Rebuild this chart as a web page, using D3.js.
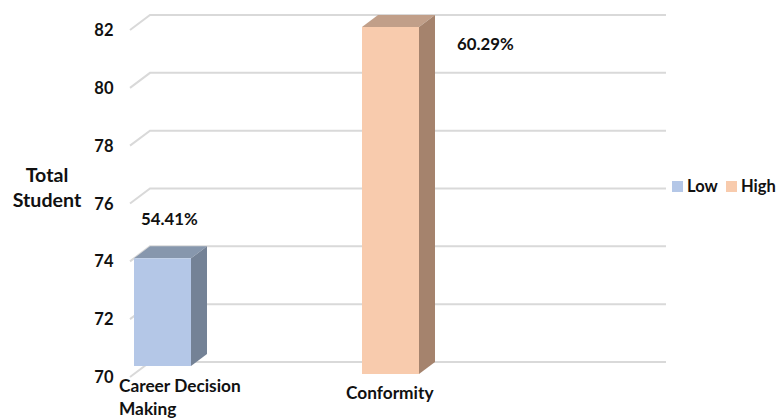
<!DOCTYPE html>
<html>
<head>
<meta charset="UTF-8">
<title>Total Student</title>
<style>
  body { margin: 0; padding: 0; background: #fff; }
  text { font-family: Lato, "Open Sans", sans-serif; font-weight: 700; fill: #111; }
</style>
</head>
<body>
<svg width="777" height="420"></svg>
<script src="https://d3js.org/d3.v7.min.js"></script>
<script>
var categories = [["Career Decision", "Making"], ["Conformity"]]
var seriesNames = ["Low", "High"]
var values = [74, 82]
var percentLabels = ["54.41%", "60.29%"]
var yTicks = [70, 72, 74, 76, 78, 80, 82]
var colors = ["#b4c7e7", "#f8cbad"]
var topColors = ["#8797ad", "#c19f89"]
var sideColors = ["#748296", "#a5836d"]

var svg = d3.select("svg")

// front plane of the 3d box, the back wall is shifted by depth
var dx = 16, dy = -12
var y = d3.scaleLinear().domain([70, 82]).range([374, 27])
var barW = 57

yTicks.forEach(function (t) {
  var yy = y(t)
  svg.append("path")
    .attr("d", "M130," + (yy + 3) + "L150," + (yy + dy) + "L666," + (yy + dy))
    .attr("fill", "none").attr("stroke", "#d9d9d9").attr("stroke-width", 2)
  svg.append("text").attr("x", 113.5).attr("y", yy + 9)
    .attr("text-anchor", "end").style("font-size", "16.5px").text(t)
})

// the blue bar stops a little above the floor in the picture
var bottomTrim = [8, 0]
var barX = [134, 362]

values.forEach(function (v, i) {
  var x0 = barX[i], x1 = x0 + barW
  var top = y(v), bot = y(70) - bottomTrim[i]
  svg.append("polygon").attr("fill", topColors[i])
    .attr("points", [[x0, top], [x0 + dx, top + dy], [x1 + dx, top + dy], [x1, top]].join(" "))
  svg.append("polygon").attr("fill", sideColors[i])
    .attr("points", [[x1, top], [x1 + dx, top + dy], [x1 + dx, bot + dy], [x1, bot]].join(" "))
  svg.append("rect").attr("x", x0).attr("y", top).attr("width", barW).attr("height", bot - top)
    .attr("fill", colors[i])
})

var labelPos = [[141, 225], [457, 50]]
percentLabels.forEach(function (s, i) {
  svg.append("text").attr("x", labelPos[i][0]).attr("y", labelPos[i][1])
    .style("font-size", "16.8px").text(s)
})

var catPos = [[119, 392], [346, 399]]
categories.forEach(function (lines, i) {
  lines.forEach(function (s, j) {
    svg.append("text").attr("x", catPos[i][0]).attr("y", catPos[i][1] + j * 23)
      .style("font-size", "17.3px").text(s)
  })
})

var title = svg.append("text").attr("text-anchor", "middle").style("font-size", "19.6px")
title.append("tspan").attr("x", 47).attr("y", 182).text("Total")
title.append("tspan").attr("x", 47).attr("y", 207).text("Student")

var legendX = [672, 726]
seriesNames.forEach(function (s, i) {
  svg.append("rect").attr("x", legendX[i]).attr("y", 181).attr("width", 11).attr("height", 11)
    .attr("fill", colors[i])
  svg.append("text").attr("x", legendX[i] + 15).attr("y", 192)
    .style("font-size", "16.5px").text(s)
})
</script>
</body>
</html>
